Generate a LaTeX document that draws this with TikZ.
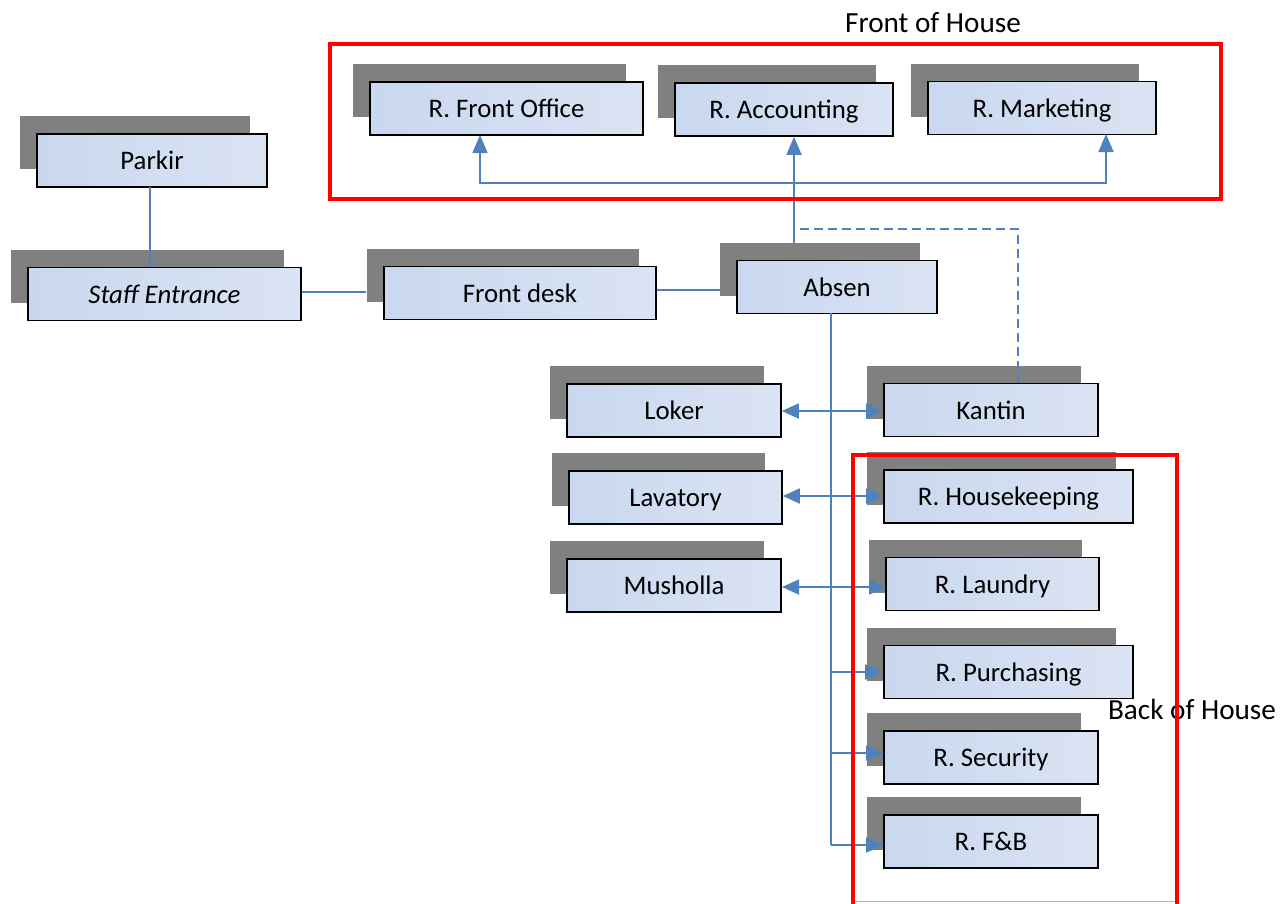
\documentclass[tikz,border=0pt]{standalone}
\usepackage{fontspec}
\setmainfont{Carlito}
\usetikzlibrary{arrows.meta,shadows}
\definecolor{lineblue}{HTML}{4F81BD}
\definecolor{boxL}{HTML}{C9D8EF}
\definecolor{boxR}{HTML}{DAE3F3}
\definecolor{shadowgray}{HTML}{808080}
\definecolor{hred}{HTML}{FF0000}
\begin{document}
\begin{tikzpicture}[x=1pt,y=-1pt,
  room/.style={draw=black, line width=1.6pt, left color=boxL, right color=boxR,
    minimum height=53pt, inner sep=0pt, font=\fontsize{26.8}{30}\selectfont,
    text height=18pt, text depth=0pt,
    general shadow={fill=shadowgray, draw=none, shadow xshift=-17pt, shadow yshift=18pt}},
  conn/.style={draw=lineblue, line width=1.8pt},
  tip/.style={-{Triangle[length=18pt,width=15pt]}},
  dtip/.style={{Triangle[length=17pt,width=15pt]}-{Triangle[length=17pt,width=15pt]}},
  zone/.style={draw=hred, line width=4.5pt},
  zonelabel/.style={font=\fontsize{29.2}{32}\selectfont, inner sep=0pt}]
\useasboundingbox (0,0) rectangle (1280,903);

% rooms
\node[room, minimum width=273pt] (fo) at (506.5,108.5) {R. Front Office};
\node[room, minimum width=218pt] (acc) at (784,109.5) {R. Accounting};
\node[room, minimum width=228pt] (mkt) at (1042,108) {R. Marketing};
\node[room, minimum width=230pt] (parkir) at (152,160.5) {Parkir};
\node[room, minimum width=273pt] (staff) at (164.5,294) {\itshape Staff Entrance};
\node[room, minimum width=272pt] (fd) at (520,293) {Front desk};
\node[room, minimum width=200pt] (absen) at (837,287) {Absen};
\node[room, minimum width=214pt] (loker) at (674,410.5) {Loker};
\node[room, minimum width=213pt] (lav) at (675.5,497.5) {Lavatory};
\node[room, minimum width=214pt] (mus) at (674,585.5) {Musholla};
\node[room, minimum width=214pt] (kantin) at (991,410) {Kantin};
\node[room, minimum width=249pt] (hk) at (1008.5,496.5) {R. Housekeeping};
\node[room, minimum width=213pt] (lau) at (992.5,584) {R. Laundry};
\node[room, minimum width=249pt] (pur) at (1008.5,672) {R. Purchasing};
\node[room, minimum width=214pt] (sec) at (991,757.5) {R. Security};
\node[room, minimum width=214pt] (fb) at (991,841.5) {R. F\&B};

% helper coordinates
\coordinate (up) at (794,243);
\coordinate (hub) at (794,183);
\coordinate (dstart) at (800,229);
\coordinate (trunk) at (831,313);
\coordinate (trunkend) at (831,845);

% connectors
\draw[conn] (150,187) -- (150,267);
\draw[conn] (staff.east |- 0,292) -- ([xshift=-17pt]fd.west |- 0,292);
\draw[conn] (fd.east |- 0,290) -- (720,290);
\draw[conn, tip] (up) -- (up |- acc.south);
\draw[conn, tip] (hub) -- (480,183) -- (480,135);
\draw[conn, tip] (hub) -- (1106,183) -- (1106,134);
\draw[conn, dashed, dash pattern=on 9pt off 5pt] (dstart) -- (1018,229) -- (1018,383);
\draw[conn] (trunk) -- (trunkend);
\draw[conn, tip] (trunk |- pur.west) -- (pur.west);
\draw[conn, tip] (trunk |- 0,753) -- (884,753);
\draw[conn, tip] (trunkend) -- (884,845);
\draw[conn, dtip] (loker.east |- 0,411) -- (kantin.west |- 0,411);
\draw[conn, dtip] (lav.east |- 0,496) -- (hk.west |- 0,496);
\draw[conn, dtip] (782,587) -- (886,587);

% zones
\node[zonelabel] (foh) at (933,23) {Front of House};
\node[zonelabel] (boh) at (1192,709) {Back of House};
\draw[zone] (330,44) rectangle (1221,199);
\draw[draw=hred!40, line width=1pt] (853,901.5) -- (1177,901.5);
\draw[zone] (853,905) -- (853,455) -- (1177,455) -- (1177,905);
\end{tikzpicture}
\end{document}
